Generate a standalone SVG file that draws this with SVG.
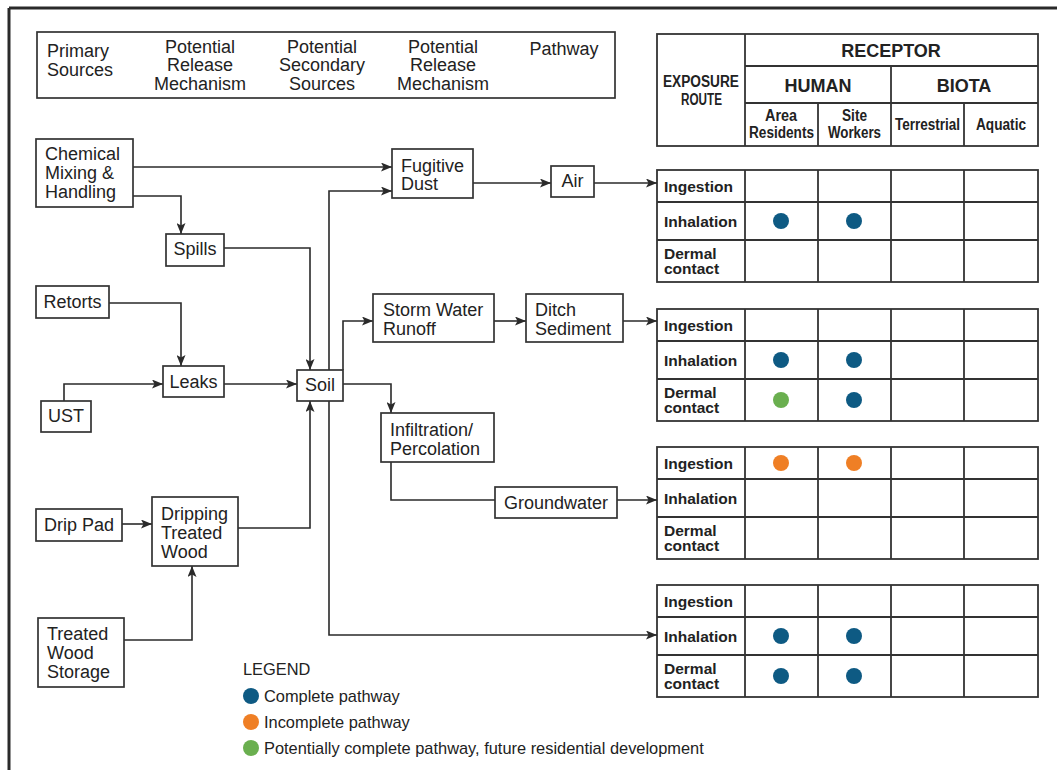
<svg xmlns="http://www.w3.org/2000/svg" width="1057" height="770" viewBox="0 0 1057 770">
<style>
text{font-family:"Liberation Sans",Arial,Helvetica,sans-serif;fill:#222}
.t{font-size:18px}
.c{text-anchor:middle}
.b{font-weight:bold}
.box{fill:#fff;stroke:#333;stroke-width:1.7}
.ln{fill:none;stroke:#2a2a2a;stroke-width:1.6}
.ar{marker-end:url(#ah)}
.grid{fill:none;stroke:#333;stroke-width:1.8}
.rl{font-size:15.5px;font-weight:bold}
.blue{fill:#0e5a83}
.orange{fill:#ef7f25}
.green{fill:#6aaf4f}
.lg{font-size:16.4px}
</style>
<defs>
<marker id="ah" markerUnits="userSpaceOnUse" markerWidth="12" markerHeight="9" refX="11" refY="4.5" orient="auto">
<path d="M0,0 L11,4.5 L0,9 L2.5,4.5 z" fill="#2a2a2a"/>
</marker>
</defs>
<rect width="1057" height="770" fill="#fff"/>
<g id="frame">
<line x1="9" y1="8" x2="1057" y2="8" stroke="#2a2a2a" stroke-width="3"/>
<line x1="9" y1="8" x2="9" y2="770" stroke="#2a2a2a" stroke-width="3"/>
</g>
<g id="header">
<rect x="37" y="32" width="578" height="66" class="box"/>
<text class="t" x="47" y="56.5">Primary</text>
<text class="t" x="47" y="75.5">Sources</text>
<text class="t c" x="200" y="52.5">Potential</text>
<text class="t c" x="200" y="71">Release</text>
<text class="t c" x="200" y="89.5">Mechanism</text>
<text class="t c" x="322" y="52.5">Potential</text>
<text class="t c" x="322" y="71">Secondary</text>
<text class="t c" x="322" y="89.5">Sources</text>
<text class="t c" x="443" y="52.5">Potential</text>
<text class="t c" x="443" y="71">Release</text>
<text class="t c" x="443" y="89.5">Mechanism</text>
<text class="t c" x="564" y="54.5">Pathway</text>
</g>
<g id="receptor-header">
<rect x="657" y="34" width="381" height="112" class="grid" fill="#fff"/>
<line x1="745" y1="34" x2="745" y2="146" class="grid"/>
<line x1="745" y1="66" x2="1038" y2="66" class="grid"/>
<line x1="745" y1="103" x2="1038" y2="103" class="grid"/>
<line x1="891" y1="66" x2="891" y2="146" class="grid"/>
<line x1="818" y1="103" x2="818" y2="146" class="grid"/>
<line x1="964" y1="103" x2="964" y2="146" class="grid"/>
<text class="b c" style="font-size:18px" x="891" y="56.5">RECEPTOR</text>
<text class="b c" style="font-size:18px" x="818" y="91.5">HUMAN</text>
<text class="b c" style="font-size:18px" x="964" y="91.5">BIOTA</text>
<text class="b" style="font-size:16px" x="663" y="87" textLength="76" lengthAdjust="spacingAndGlyphs">EXPOSURE</text>
<text class="b" style="font-size:16px" x="681" y="105" textLength="41" lengthAdjust="spacingAndGlyphs">ROUTE</text>
<text class="b" style="font-size:16px" x="765" y="121" textLength="32" lengthAdjust="spacingAndGlyphs">Area</text>
<text class="b" style="font-size:16px" x="749" y="138" textLength="65" lengthAdjust="spacingAndGlyphs">Residents</text>
<text class="b" style="font-size:16px" x="842" y="121" textLength="25" lengthAdjust="spacingAndGlyphs">Site</text>
<text class="b" style="font-size:16px" x="828" y="138" textLength="53" lengthAdjust="spacingAndGlyphs">Workers</text>
<text class="b" style="font-size:16px" x="895" y="130" textLength="65" lengthAdjust="spacingAndGlyphs">Terrestrial</text>
<text class="b" style="font-size:16px" x="976" y="130" textLength="50" lengthAdjust="spacingAndGlyphs">Aquatic</text>
</g>
<g id="table-air">
<rect x="657" y="170" width="381" height="112" class="grid" fill="#fff"/>
<path class="grid" d="M657,202H1038M657,240H1038M745,170V282M818,170V282M891,170V282M964,170V282"/>
<text class="rl" x="664" y="192">Ingestion</text>
<text class="rl" x="664" y="227">Inhalation</text>
<text class="rl" x="664" y="259">Dermal</text>
<text class="rl" x="664" y="274">contact</text>
<circle class="blue" cx="781" cy="221" r="8"/>
<circle class="blue" cx="854" cy="221" r="8"/>
</g>
<g id="table-ditch">
<rect x="657" y="309" width="381" height="112" class="grid" fill="#fff"/>
<path class="grid" d="M657,341H1038M657,379H1038M745,309V421M818,309V421M891,309V421M964,309V421"/>
<text class="rl" x="664" y="331">Ingestion</text>
<text class="rl" x="664" y="366">Inhalation</text>
<text class="rl" x="664" y="398">Dermal</text>
<text class="rl" x="664" y="413">contact</text>
<circle class="blue" cx="781" cy="360" r="8"/>
<circle class="blue" cx="854" cy="360" r="8"/>
<circle class="green" cx="781" cy="400" r="8"/>
<circle class="blue" cx="854" cy="400" r="8"/>
</g>
<g id="table-groundwater">
<rect x="657" y="447" width="381" height="112" class="grid" fill="#fff"/>
<path class="grid" d="M657,479H1038M657,517H1038M745,447V559M818,447V559M891,447V559M964,447V559"/>
<text class="rl" x="664" y="469">Ingestion</text>
<text class="rl" x="664" y="504">Inhalation</text>
<text class="rl" x="664" y="536">Dermal</text>
<text class="rl" x="664" y="551">contact</text>
<circle class="orange" cx="781" cy="463" r="8"/>
<circle class="orange" cx="854" cy="463" r="8"/>
</g>
<g id="table-soil">
<rect x="657" y="585" width="381" height="112" class="grid" fill="#fff"/>
<path class="grid" d="M657,617H1038M657,655H1038M745,585V697M818,585V697M891,585V697M964,585V697"/>
<text class="rl" x="664" y="607">Ingestion</text>
<text class="rl" x="664" y="642">Inhalation</text>
<text class="rl" x="664" y="674">Dermal</text>
<text class="rl" x="664" y="689">contact</text>
<circle class="blue" cx="781" cy="636" r="8"/>
<circle class="blue" cx="854" cy="636" r="8"/>
<circle class="blue" cx="781" cy="676" r="8"/>
<circle class="blue" cx="854" cy="676" r="8"/>
</g>
<g id="connectors">
<path class="ln ar" d="M133,167H392"/>
<path class="ln ar" d="M133,196H181V234"/>
<path class="ln ar" d="M224,248H310V370"/>
<path class="ln ar" d="M109,303H181V366"/>
<path class="ln ar" d="M64,401V384H163"/>
<path class="ln ar" d="M224,384H297"/>
<path class="ln ar" d="M122,524H152"/>
<path class="ln ar" d="M124,640H192V566"/>
<path class="ln ar" d="M238,528H310V401"/>
<path class="ln ar" d="M329,370V191H392"/>
<path class="ln ar" d="M343,370V321H373"/>
<path class="ln ar" d="M494,321H526"/>
<path class="ln ar" d="M623,321H657"/>
<path class="ln ar" d="M473,183H551"/>
<path class="ln ar" d="M594,183H657"/>
<path class="ln ar" d="M343,384H391V413"/>
<path class="ln" d="M391,462V500H495"/>
<path class="ln ar" d="M617,500H657"/>
<path class="ln ar" d="M329,401V635H657"/>
</g>
<g id="chemical">
<rect x="36" y="139" width="97" height="68" class="box"/>
<text class="t" x="45" y="160">Chemical</text>
<text class="t" x="45" y="179">Mixing &amp;</text>
<text class="t" x="45" y="198">Handling</text>
</g>
<g id="spills">
<rect x="166" y="234" width="58" height="32" class="box"/>
<text class="t c" x="195" y="255">Spills</text>
</g>
<g id="retorts">
<rect x="36" y="286" width="73" height="32" class="box"/>
<text class="t c" x="72.5" y="308">Retorts</text>
</g>
<g id="leaks">
<rect x="163" y="366" width="61" height="31" class="box"/>
<text class="t c" x="193.5" y="388">Leaks</text>
</g>
<g id="ust">
<rect x="41" y="401" width="50" height="31" class="box"/>
<text class="t c" x="66" y="422">UST</text>
</g>
<g id="soil">
<rect x="297" y="370" width="46" height="31" class="box"/>
<text class="t c" x="320" y="391">Soil</text>
</g>
<g id="drip-pad">
<rect x="36" y="509" width="86" height="32" class="box"/>
<text class="t c" x="79" y="531">Drip Pad</text>
</g>
<g id="dripping">
<rect x="152" y="497" width="86" height="69" class="box"/>
<text class="t" x="161" y="520">Dripping</text>
<text class="t" x="161" y="539">Treated</text>
<text class="t" x="161" y="558">Wood</text>
</g>
<g id="storage">
<rect x="38" y="618" width="86" height="69" class="box"/>
<text class="t" x="47" y="640">Treated</text>
<text class="t" x="47" y="659">Wood</text>
<text class="t" x="47" y="678">Storage</text>
</g>
<g id="fugitive">
<rect x="392" y="149" width="81" height="49" class="box"/>
<text class="t" x="401" y="172">Fugitive</text>
<text class="t" x="401" y="190">Dust</text>
</g>
<g id="air">
<rect x="551" y="166" width="43" height="31" class="box"/>
<text class="t c" x="572.5" y="187">Air</text>
</g>
<g id="storm">
<rect x="373" y="294" width="121" height="48" class="box"/>
<text class="t" x="383" y="316">Storm Water</text>
<text class="t" x="383" y="335">Runoff</text>
</g>
<g id="ditch">
<rect x="526" y="294" width="97" height="48" class="box"/>
<text class="t" x="535" y="316">Ditch</text>
<text class="t" x="535" y="335">Sediment</text>
</g>
<g id="infiltration">
<rect x="381" y="413" width="113" height="49" class="box"/>
<text class="t" x="390" y="436">Infiltration/</text>
<text class="t" x="390" y="455">Percolation</text>
</g>
<g id="groundwater">
<rect x="495" y="487" width="122" height="31" class="box"/>
<text class="t c" x="556" y="509">Groundwater</text>
</g>
<g id="legend">
<text class="lg" x="243" y="675">LEGEND</text>
<circle class="blue" cx="251" cy="696" r="8"/>
<text class="lg" x="264" y="702">Complete pathway</text>
<circle class="orange" cx="251" cy="722" r="8"/>
<text class="lg" x="264" y="728">Incomplete pathway</text>
<circle class="green" cx="251" cy="748" r="8"/>
<text class="lg" x="264" y="754">Potentially complete pathway, future residential development</text>
</g>
</svg>
